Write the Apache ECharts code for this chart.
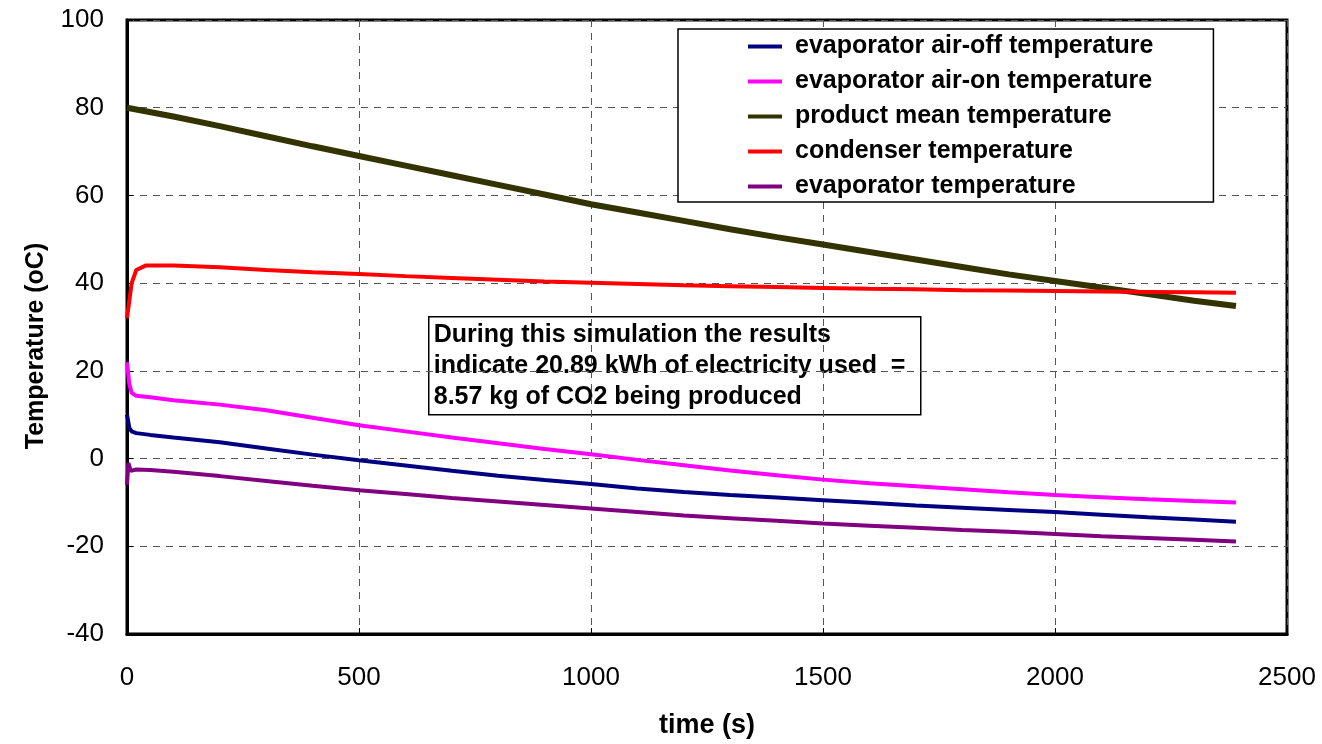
<!DOCTYPE html>
<html>
<head>
    <meta charset="utf-8">
    <title>Temperature vs time</title>
    <script src="https://cdn.jsdelivr.net/npm/echarts@6/dist/echarts.min.js"></script>
    <style>
        body, html { margin: 0; padding: 0; height: 100%; overflow: hidden; background: #fff; }
        #main { width: 1322px; height: 744px; }
    </style>
</head>
<body>
    <div id="main"></div>
    <script>
        // data: [time (s), temperature (oC)]
        const airOff = [[0, 10], [5, 7], [10, 6.2], [20, 5.8], [50, 5.4], [100, 4.8], [200, 3.7], [300, 2.3], [400, 0.9],
            [500, -0.4], [600, -1.6], [700, -2.8], [800, -3.9], [900, -4.9], [1000, -5.8], [1100, -6.8], [1200, -7.6],
            [1300, -8.3], [1400, -8.9], [1500, -9.5], [1600, -10.1], [1700, -10.7], [1800, -11.2], [1900, -11.7],
            [2000, -12.2], [2100, -12.8], [2200, -13.4], [2300, -13.9], [2390, -14.4]];
        const airOn = [[0, 22], [5, 17], [10, 15], [20, 14.3], [50, 14], [100, 13.3], [200, 12.3], [300, 11], [400, 9.3],
            [500, 7.6], [600, 6.2], [700, 4.8], [800, 3.5], [900, 2.2], [1000, 1], [1100, -0.3], [1200, -1.5],
            [1300, -2.7], [1400, -3.8], [1500, -4.8], [1600, -5.6], [1700, -6.3], [1800, -7], [1900, -7.7],
            [2000, -8.3], [2100, -8.8], [2200, -9.3], [2300, -9.7], [2390, -10]];
        const product = [[0, 80], [100, 78], [200, 75.8], [300, 73.5], [400, 71.2], [500, 69], [600, 66.8], [700, 64.6],
            [800, 62.4], [900, 60.2], [1000, 58], [1100, 56.1], [1200, 54.2], [1300, 52.3], [1400, 50.5], [1500, 48.8],
            [1600, 47.1], [1700, 45.4], [1800, 43.7], [1900, 42], [2000, 40.5], [2100, 39], [2200, 37.5], [2300, 36],
            [2390, 34.8]];
        const condenser = [[0, 32], [5, 36], [10, 40], [20, 43], [40, 44], [100, 44], [200, 43.6], [300, 43], [400, 42.5],
            [500, 42.1], [600, 41.6], [700, 41.2], [800, 40.8], [900, 40.4], [1000, 40.1], [1100, 39.8], [1200, 39.5],
            [1300, 39.3], [1400, 39.1], [1500, 38.9], [1600, 38.7], [1700, 38.6], [1800, 38.4], [1900, 38.3],
            [2000, 38.2], [2100, 38.1], [2200, 38], [2300, 37.9], [2390, 37.8]];
        const evaporator = [[0, -6], [3, -1], [8, -2.8], [20, -2.5], [50, -2.6], [100, -3], [200, -4], [300, -5.1],
            [400, -6.2], [500, -7.2], [600, -8.1], [700, -9], [800, -9.8], [900, -10.6], [1000, -11.4], [1100, -12.2],
            [1200, -13], [1300, -13.6], [1400, -14.2], [1500, -14.8], [1600, -15.3], [1700, -15.8], [1800, -16.3],
            [1900, -16.7], [2000, -17.2], [2100, -17.7], [2200, -18.1], [2300, -18.5], [2390, -18.9]];

        const names = ['evaporator air-off temperature', 'evaporator air-on temperature',
            'product mean temperature', 'condenser temperature', 'evaporator temperature'];
        const colors = ['#000080', '#ff00ff', '#333300', '#ff0000', '#800080'];
        const widths = [4, 4, 6, 4, 4];
        const seriesData = [airOff, airOn, product, condenser, evaporator];

        const note = 'During this simulation the results\nindicate 20.89 kWh of electricity used  =\n8.57 kg of CO2 being produced';

        const font = 'Liberation Sans, Arial, sans-serif';
        const chart = echarts.init(document.getElementById('main'));

        chart.setOption({
            backgroundColor: '#fff',
            animation: false,
            grid: {
                left: 127, right: 35, top: 20, bottom: 107,
                show: true, borderColor: '#000', borderWidth: 3
            },
            xAxis: {
                type: 'value', min: 0, max: 2500, interval: 500,
                name: 'time (s)', nameLocation: 'middle', nameGap: 78,
                nameTextStyle: { fontFamily: font, fontSize: 27, fontWeight: 'bold', color: '#000' },
                axisLine: { onZero: false, lineStyle: { color: '#000', width: 3 } },
                axisTick: { inside: true, length: 6, lineStyle: { color: '#000' } },
                axisLabel: { fontFamily: font, fontSize: 26, color: '#000', margin: 31, formatter: v => String(v) },
                splitLine: { lineStyle: { color: '#555', type: [7, 6], width: 1 } }
            },
            yAxis: {
                type: 'value', min: -40, max: 100, interval: 20,
                name: 'Temperature (oC)', nameLocation: 'middle', nameGap: 78,
                nameTextStyle: { fontFamily: font, fontSize: 25, fontWeight: 'bold', color: '#000', padding: [0, 38, 0, 0] },
                axisLine: { show: true, onZero: false, lineStyle: { color: '#000', width: 3 } },
                axisTick: { show: true, inside: true, length: 6, lineStyle: { color: '#000' } },
                axisLabel: { fontFamily: font, fontSize: 26, color: '#000', margin: 23 },
                splitLine: { lineStyle: { color: '#555', type: [7, 6], width: 1 } }
            },
            legend: {
                orient: 'vertical',
                left: 678, top: 29,
                padding: [5, 60, 3, 70],
                itemGap: 10,
                itemWidth: 34, itemHeight: 4,
                icon: 'rect',
                backgroundColor: '#fff',
                borderColor: '#000', borderWidth: 1.5,
                textStyle: { fontFamily: font, fontSize: 25, fontWeight: 'bold', color: '#000', padding: [0, 0, 0, 8] },
                data: names
            },
            graphic: [{
                type: 'group',
                left: 428, top: 316,
                children: [{
                    type: 'rect',
                    shape: { x: 0, y: 0, width: 492, height: 98 },
                    style: { fill: '#fff', stroke: '#000', lineWidth: 1.5 }
                }, {
                    type: 'text',
                    left: 5, top: 3,
                    style: {
                        text: note, fill: '#000', font: 'bold 25px ' + font, lineHeight: 31
                    }
                }]
            }],
            series: seriesData.map((d, i) => ({
                name: names[i],
                type: 'line',
                data: d,
                showSymbol: false,
                smooth: false,
                lineStyle: { color: colors[i], width: widths[i] },
                itemStyle: { color: colors[i] }
            }))
        });
    </script>
</body>
</html>
